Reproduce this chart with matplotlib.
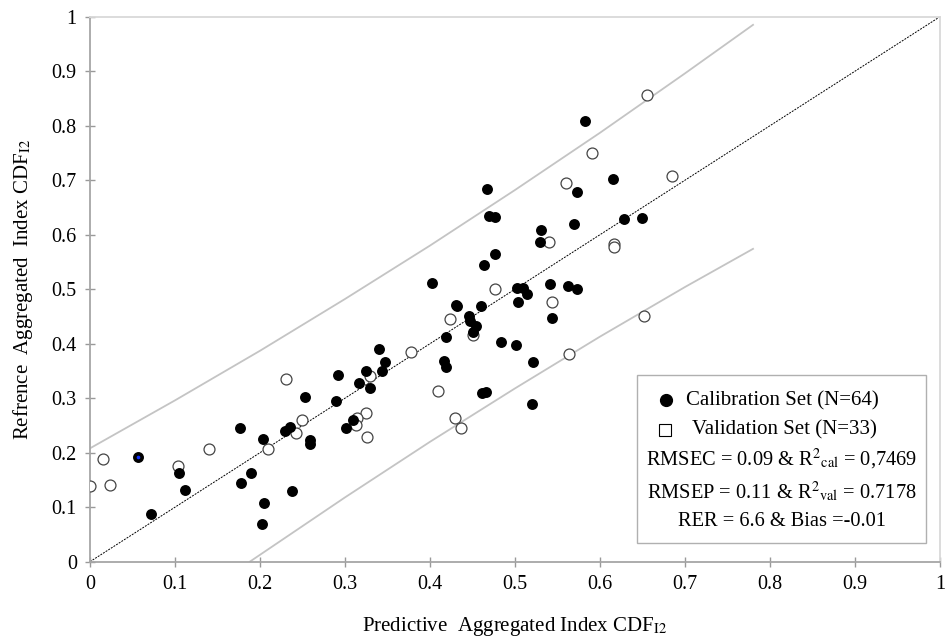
import matplotlib

matplotlib.use("Agg")
import matplotlib.pyplot as plt
from matplotlib.patches import Rectangle
import numpy as np

plt.rcParams["font.family"] = ["Liberation Serif", "DejaVu Serif"]
plt.rcParams["mathtext.fontset"] = "stix"

# calibration set (filled), predicted vs reference
cal_pred = [0.253, 0.177, 0.203, 0.235, 0.230, 0.259, 0.259, 0.105, 0.112, 0.072,
            0.190, 0.178, 0.238, 0.205, 0.202, 0.402, 0.431, 0.419, 0.416, 0.419,
            0.340, 0.347, 0.344, 0.325, 0.316, 0.330, 0.292, 0.290, 0.309, 0.301,
            0.615, 0.467, 0.573, 0.469, 0.476, 0.628, 0.649, 0.569, 0.531, 0.529,
            0.477, 0.464, 0.502, 0.509, 0.514, 0.541, 0.562, 0.573, 0.504, 0.543,
            0.460, 0.446, 0.447, 0.454, 0.451, 0.484, 0.501, 0.521, 0.461, 0.466,
            0.582, 0.520, 0.432]
cal_ref = [0.302, 0.245, 0.226, 0.248, 0.239, 0.223, 0.216, 0.163, 0.132, 0.0875,
           0.162, 0.144, 0.130, 0.108, 0.069, 0.512, 0.471, 0.413, 0.368, 0.358,
           0.390, 0.366, 0.349, 0.350, 0.328, 0.319, 0.343, 0.295, 0.260, 0.246,
           0.703, 0.684, 0.679, 0.635, 0.633, 0.628, 0.630, 0.620, 0.609, 0.587,
           0.564, 0.544, 0.502, 0.503, 0.491, 0.509, 0.506, 0.500, 0.476, 0.447,
           0.469, 0.451, 0.442, 0.433, 0.422, 0.403, 0.398, 0.366, 0.309, 0.312,
           0.809, 0.289, 0.470]
# one highlighted calibration sample (blue centre)
hl_pred = [0.057]
hl_ref = [0.193]

# validation set (open)
val_pred = [0.231, 0.250, 0.242, 0.210, 0.015, 0.140, 0.104, 0.000, 0.023, 0.424,
            0.409, 0.429, 0.378, 0.329, 0.325, 0.314, 0.313, 0.326, 0.590, 0.685,
            0.560, 0.540, 0.616, 0.616, 0.476, 0.543, 0.451, 0.652, 0.563, 0.655,
            0.437]
val_ref = [0.335, 0.260, 0.236, 0.206, 0.188, 0.207, 0.176, 0.138, 0.141, 0.445,
           0.313, 0.263, 0.384, 0.341, 0.272, 0.263, 0.250, 0.229, 0.750, 0.708,
           0.694, 0.587, 0.583, 0.577, 0.500, 0.477, 0.416, 0.451, 0.381, 0.856,
           0.245]

# prediction band
upper_x = [0.0, 0.1, 0.2, 0.3, 0.4, 0.5, 0.6, 0.7, 0.78]
upper_y = [0.208, 0.296, 0.387, 0.482, 0.580, 0.682, 0.787, 0.896, 0.985]
lower_x = [0.188, 0.3, 0.4, 0.5, 0.6, 0.7, 0.78]
lower_y = [0.0, 0.118, 0.220, 0.318, 0.413, 0.504, 0.574]

ticks = [0, 0.1, 0.2, 0.3, 0.4, 0.5, 0.6, 0.7, 0.8, 0.9, 1]
tick_labels = ["0", "0.1", "0.2", "0.3", "0.4", "0.5", "0.6", "0.7", "0.8", "0.9", "1"]

fig = plt.figure(figsize=(9.46, 6.41), dpi=100)
ax = fig.add_axes([0.0951, 0.1237, 0.8986, 0.8503])

ax.plot([0, 1], [0, 1], color="black", linewidth=0.7, linestyle=(0, (2, 1.2)), zorder=2)
ax.plot(upper_x, upper_y, color="#c4c4c4", linewidth=1.3, zorder=1)
ax.plot(lower_x, lower_y, color="#c4c4c4", linewidth=1.3, zorder=1)

ax.scatter(val_pred, val_ref, s=62, facecolor="white", edgecolor="#444444", linewidth=0.9, zorder=3)
ax.scatter(cal_pred, cal_ref, s=62, color="black", linewidth=0, zorder=4)
ax.scatter(hl_pred, hl_ref, s=62, color="black", linewidth=0, zorder=4)
ax.scatter(hl_pred, hl_ref, s=7, color="#1030ff", linewidth=0, zorder=5)

ax.set_xlim(0, 1)
ax.set_ylim(0, 1)
ax.set_xticks(ticks)
ax.set_yticks(ticks)
ax.set_xticklabels(tick_labels)
ax.set_yticklabels(tick_labels)
ax.tick_params(direction="inout", length=7, width=1, color="#999999", labelsize=14.5, pad=6)
for side in ("left", "bottom"):
    ax.spines[side].set_color("#a6a6a6")
    ax.spines[side].set_linewidth(1.3)
for side in ("top", "right"):
    ax.spines[side].set_color("#d9d9d9")
    ax.spines[side].set_linewidth(1.3)

ax.set_xlabel(r"Predictive  Aggregated Index CDF$_{\mathrm{I2}}$", fontsize=15, labelpad=15)
ax.set_ylabel(r"Refrence  Aggregated  Index CDF$_{\mathrm{I2}}$", fontsize=15, labelpad=12)

# legend / statistics box
ax.add_patch(Rectangle((0.643, 0.035), 0.341, 0.307, transform=ax.transAxes,
                       facecolor="white", edgecolor="#b0b0b0", linewidth=1.0, zorder=5))
ax.plot([0.678], [0.296], marker="o", markersize=8.5, color="black",
        transform=ax.transAxes, clip_on=False, zorder=6)
ax.plot([0.677], [0.241], marker="s", markersize=9, markerfacecolor="white",
        markeredgecolor="black", markeredgewidth=0.8, transform=ax.transAxes, clip_on=False, zorder=6)
ax.text(0.701, 0.296, "Calibration Set (N=64)", transform=ax.transAxes, fontsize=15,
        ha="left", va="center", zorder=6)
ax.text(0.708, 0.241, "Validation Set (N=33)", transform=ax.transAxes, fontsize=15,
        ha="left", va="center", zorder=6)
stats = [
    (0.187, r"RMSEC = 0.09 & R$^{2}$$_{\mathrm{cal}}$ = 0,7469"),
    (0.128, r"RMSEP = 0.11 & R$^{2}$$_{\mathrm{val}}$ = 0.7178"),
    (0.073, "RER = 6.6 & Bias =-0.01"),
]
for y, label in stats:
    ax.text(0.814, y, label, transform=ax.transAxes, fontsize=14.7,
            ha="center", va="center", zorder=6)

fig.savefig("out.png", dpi=100)
